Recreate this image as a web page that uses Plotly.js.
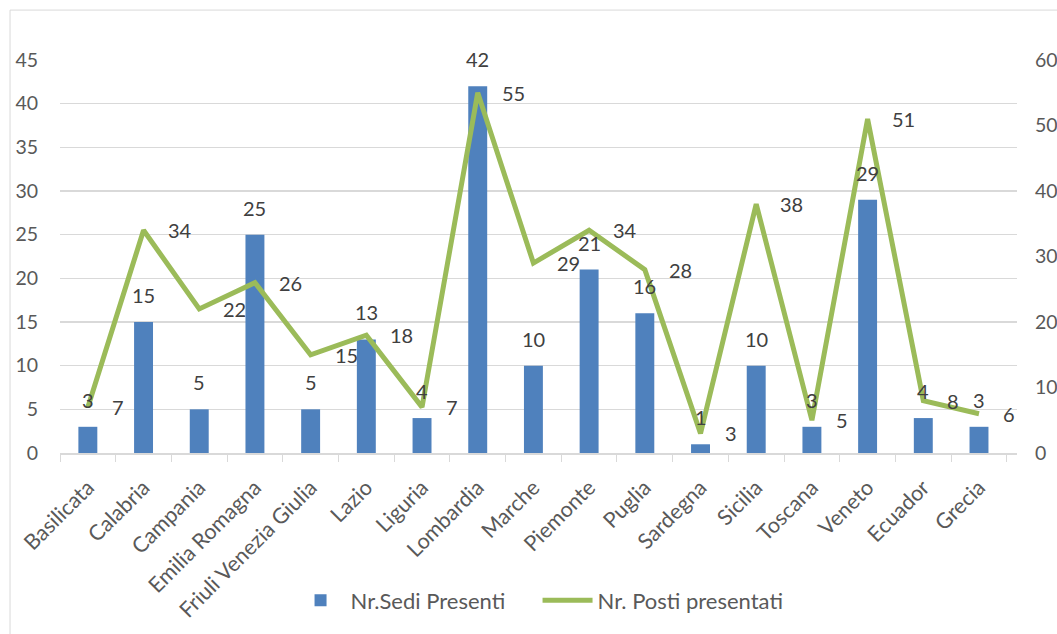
<!DOCTYPE html>
<html><head><meta charset="utf-8">
<script src="https://cdn.plot.ly/plotly-3.0.1.min.js"></script>
<style>html,body{margin:0;padding:0;background:#fff}#chart{width:1057px;height:634px}</style>
</head><body><div id="chart"></div>
<script>
const categories = ["Basilicata","Calabria","Campania","Emilia Romagna","Friuli Venezia Giulia","Lazio","Liguria","Lombardia","Marche","Piemonte","Puglia","Sardegna","Sicilia","Toscana","Veneto","Ecuador","Grecia"];
const sediPresenti = [3,15,5,25,5,13,4,42,10,21,16,1,10,3,29,4,3];
const postiPresentati = [7,34,22,26,15,18,7,55,29,34,28,3,38,5,51,8,6];
const leftTicks = [0,5,10,15,20,25,30,35,40,45];
const rightTicks = [0,10,20,30,40,50,60];

const FONT = "Lato, 'Liberation Sans', sans-serif";
const TXT = "#595959";

const bars = {
  type: "bar", name: "Nr.Sedi Presenti", x: categories, y: sediPresenti,
  marker: {color: "#4F81BD"}, yaxis: "y", hoverinfo: "skip"
};
const line = {
  type: "scatter", mode: "lines", name: "Nr. Posti presentati", x: categories, y: postiPresentati,
  line: {color: "#9BBB59", width: 5}, yaxis: "y2", hoverinfo: "skip"
};

const annotations = [];
categories.forEach((c, i) => {
  annotations.push({x: c, y: sediPresenti[i], xref: "x", yref: "y", text: String(sediPresenti[i]),
    showarrow: false, yshift: 27, font: {family: FONT, size: 20, color: "#404040"}});
  annotations.push({x: c, y: postiPresentati[i], xref: "x", yref: "y2", text: String(postiPresentati[i]),
    showarrow: false, xanchor: "left", xshift: 22, font: {family: FONT, size: 20, color: "#404040"}});
});

const layout = {
  width: 1057, height: 634,
  margin: {l: 60, r: 40, t: 60, b: 179},
  paper_bgcolor: "#fff", plot_bgcolor: "#fff",
  font: {family: FONT, size: 19, color: TXT},
  showlegend: true,
  legend: {orientation: "h", x: 0.499, xanchor: "center", y: -0.375, yanchor: "middle",
    font: {family: FONT, size: 22, color: TXT}, itemwidth: 50, entrywidth: 182, entrywidthmode: "pixels"},
  bargap: 0.66,
  xaxis: {type: "category", tickangle: -45, ticks: "outside", tickson: "boundaries", ticklen: 7,
    tickcolor: "#d9d9d9", showline: true, linecolor: "#d9d9d9", linewidth: 1.5, showgrid: false,
    ticklabelstandoff: 12,
    tickfont: {family: FONT, size: 21.5, color: TXT}},
  yaxis: {range: [0, 45], tickvals: leftTicks, showgrid: true, gridcolor: "#d9d9d9", gridwidth: 1.5,
    zeroline: false, showline: false, ticks: "", ticklabelstandoff: 21,
    tickfont: {family: FONT, size: 19.5, color: TXT}},
  yaxis2: {range: [0, 60], tickvals: rightTicks, overlaying: "y", side: "right", showgrid: false,
    zeroline: false, showline: false, ticks: "", ticklabelstandoff: 17,
    tickfont: {family: FONT, size: 19.5, color: TXT}},
  annotations: annotations,
  shapes: [
    {type: "line", xref: "paper", yref: "paper", x0: -0.0522, x1: 1.2, y0: 1.127, y1: 1.127, line: {color: "#d9d9d9", width: 1}},
    {type: "line", xref: "paper", yref: "paper", x0: -0.0522, x1: -0.0522, y0: 1.127, y1: -0.5, line: {color: "#d9d9d9", width: 1}}
  ]
};
Plotly.newPlot("chart", [bars, line], layout, {displayModeBar: false, staticPlot: true});
</script></body></html>
